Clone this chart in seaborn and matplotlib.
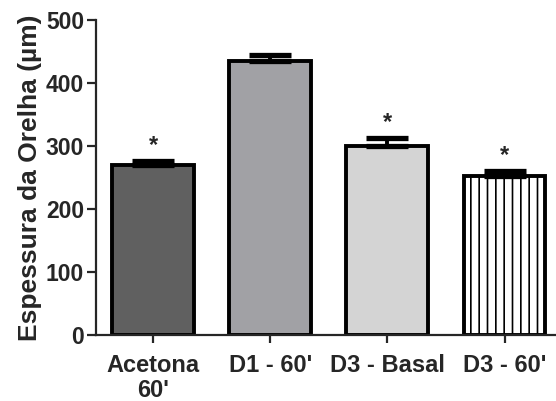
import matplotlib
matplotlib.use("Agg")
import matplotlib.pyplot as plt
import seaborn as sns
import pandas as pd

# data
grupos = ["Acetona\n60'", "D1 - 60'", "D3 - Basal", "D3 - 60'"]
espessura = [270, 435, 300, 252]
erro = [6, 10, 12, 8]
significativo = [True, False, True, True]
cores = ["#606060", "#a1a1a5", "#d4d4d4", "#ffffff"]

sns.set_style("ticks")
plt.rcParams['font.family'] = ['Liberation Sans', 'DejaVu Sans']
plt.rcParams['font.weight'] = 'bold'
plt.rcParams['hatch.linewidth'] = 1.2

df = pd.DataFrame({"grupo": grupos, "espessura": espessura})

fig = plt.figure(figsize=(5.56, 4.01), dpi=100)
ax = fig.add_axes([0.1727, 0.1646, 0.8273, 0.7854])

sns.barplot(data=df, x="grupo", y="espessura", hue="grupo", palette=cores,
            legend=False, width=0.7, edgecolor="black", linewidth=2.8,
            errorbar=None, ax=ax)

# vertical hatch on the last bar
ax.patches[3].set_hatch("||")

# upper error bars only
ax.errorbar(range(len(grupos)), espessura, yerr=[[0] * len(erro), erro],
            fmt="none", ecolor="black", elinewidth=2.8, capsize=15,
            capthick=3.8, zorder=3)

for i, (v, e, s) in enumerate(zip(espessura, erro, significativo)):
    if s:
        ax.text(i, v + e + 7, "*", ha="center", va="bottom", fontsize=17,
                fontweight="bold")

ax.set_ylim(0, 500)
ax.set_xlim(-0.49, 3.44)
ax.set_yticks([0, 100, 200, 300, 400, 500])
ax.set_xlabel("")
ax.set_ylabel("Espessura da Orelha (µm)", fontsize=19, fontweight="bold",
              labelpad=3)

ax.tick_params(axis="y", labelsize=16.5, width=1.6, length=6.5, pad=2)
ax.tick_params(axis="x", labelsize=17, width=1.6, length=6, pad=8)
for lab in ax.get_xticklabels():
    lab.set_fontweight("bold")
    lab.set_linespacing(1.08)
for lab in ax.get_yticklabels():
    lab.set_fontweight("bold")

for sp in ["top", "right"]:
    ax.spines[sp].set_visible(False)
for sp in ["left", "bottom"]:
    ax.spines[sp].set_linewidth(1.6)

fig.savefig("out.png", dpi=100)
